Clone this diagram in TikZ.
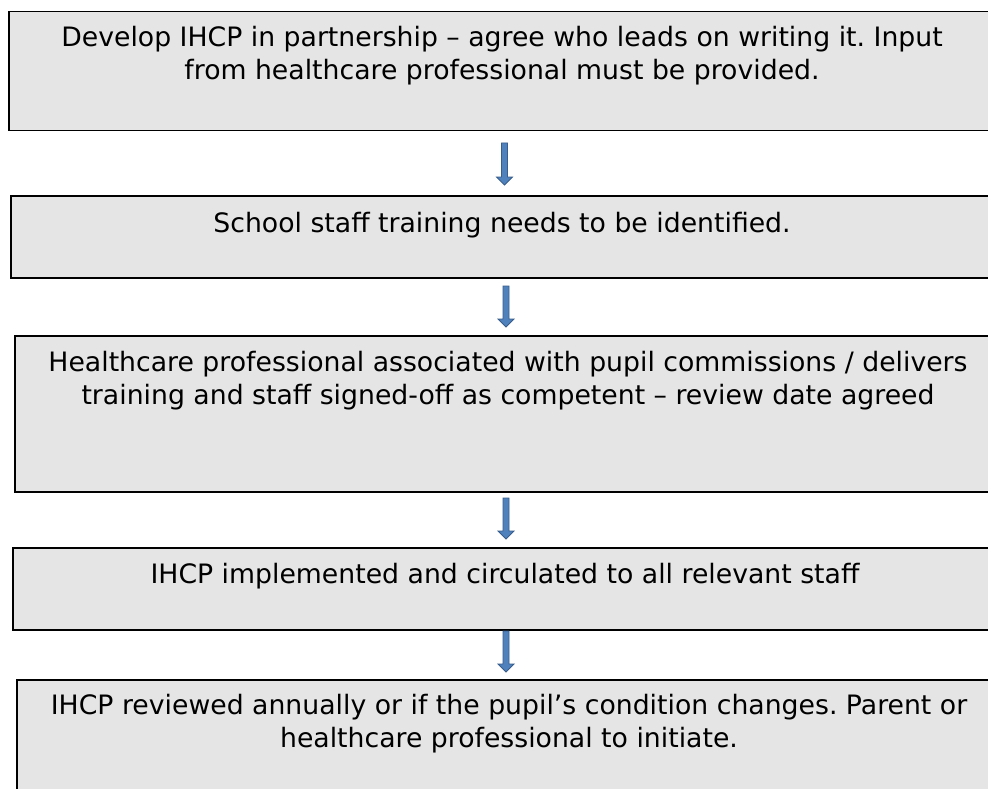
\documentclass[tikz,border=0pt]{standalone}
\usepackage{fontspec}
\setmainfont{DejaVu Sans}
\usetikzlibrary{calc}
\definecolor{boxfill}{RGB}{229,229,229}
\definecolor{arrfill}{RGB}{79,129,189}
\definecolor{arrline}{RGB}{56,93,138}
\tikzset{
  flowbox/.style={draw=black, line width=1.5pt, fill=boxfill, anchor=north west, inner sep=0pt},
  boxtext/.style={anchor=base, inner sep=0pt, font=\fontsize{26.7}{33}\selectfont\frenchspacing},
  blockarrow/.style={fill=arrfill, draw=arrline, line width=0.8pt, line join=miter}
}
\newcommand\blkarrow[2]{\path[blockarrow] ($(#1)+(-3,0)$) -- ($(#2)+(-3,-8)$) -- ($(#2)+(-8,-8)$) -- (#2) -- ($(#2)+(8,-8)$) -- ($(#2)+(3,-8)$) -- ($(#1)+(3,0)$) -- cycle;}
\begin{document}
\begin{tikzpicture}[x=1pt,y=-1pt]
\useasboundingbox (0,0) rectangle (988,789);
\clip (0,0) rectangle (988,789);
\fill[white] (0,0) rectangle (988,789);
% boxes
\node[flowbox, minimum width=992pt, minimum height=119pt] (b1) at (8,11) {};
\node[flowbox, minimum width=990pt, minimum height=82pt] (b2) at (10,195) {};
\node[flowbox, minimum width=988pt, minimum height=156pt] (b3) at (14,335) {};
\node[flowbox, minimum width=988pt, minimum height=82pt] (b4) at (12,547) {};
\node[flowbox, minimum width=988pt, minimum height=121pt] (b5) at (16,679) {};
% texts
\node[boxtext] (t1) at (502,46.5) {\begin{tabular}[t]{@{}c@{}}Develop IHCP in partnership – agree who leads on writing it. Input\\from healthcare professional must be provided.\end{tabular}};
\node[boxtext] (t2) at (502,232) {School staff training needs to be identified.};
\node[boxtext] (t3) at (508,371) {\begin{tabular}[t]{@{}c@{}}Healthcare professional associated with pupil commissions / delivers\\training and staff signed-off as competent – review date agreed\end{tabular}};
\node[boxtext] (t4) at (505,583) {IHCP implemented and circulated to all relevant staff};
\node[boxtext] (t5) at (509,714) {\begin{tabular}[t]{@{}c@{}}IHCP reviewed annually or if the pupil’s condition changes. Parent or\\healthcare professional to initiate.\end{tabular}};
% arrows
\coordinate (a1s) at (504.5,143);
\coordinate (a1e) at (504.5,185);
\coordinate (a2s) at (506,286);
\coordinate (a2e) at (506,327);
\coordinate (a3s) at (506,498);
\coordinate (a3e) at (506,539);
\coordinate (a4s) at (506,631);
\coordinate (a4e) at (506,672);
\blkarrow{a1s}{a1e}
\blkarrow{a2s}{a2e}
\blkarrow{a3s}{a3e}
\blkarrow{a4s}{a4e}
\end{tikzpicture}
\end{document}
